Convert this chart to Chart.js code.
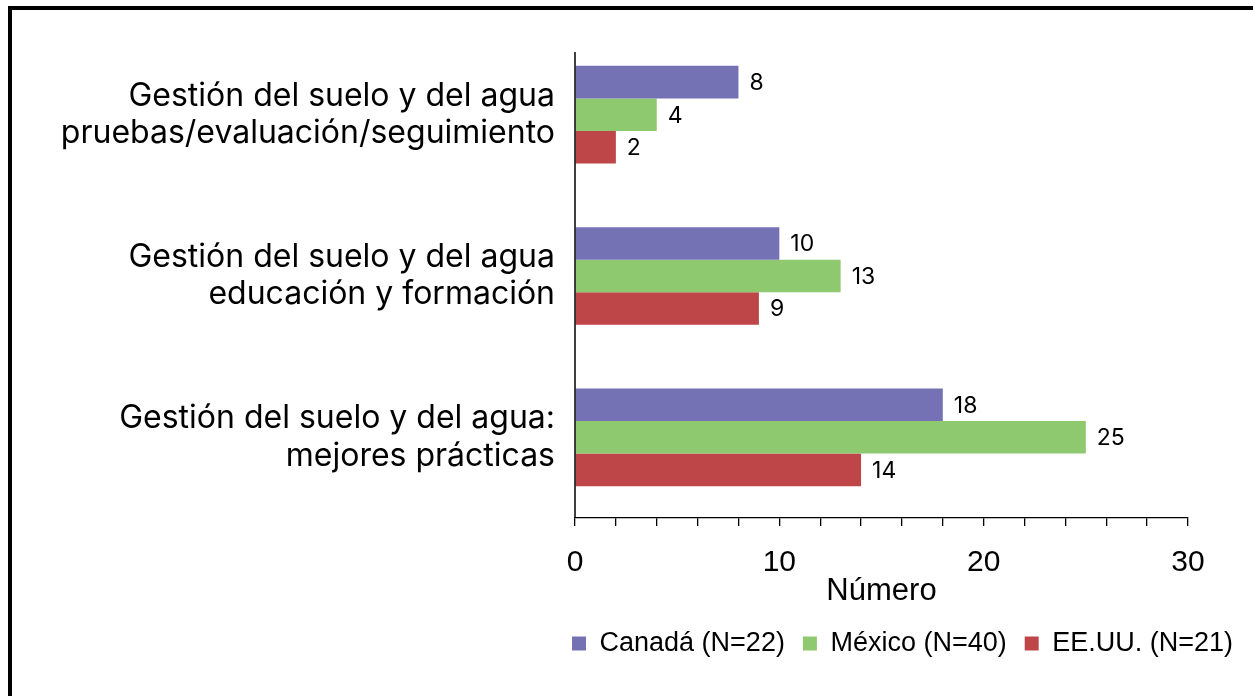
<!DOCTYPE html>
<html>
<head>
<meta charset="utf-8">
<script src="https://cdn.jsdelivr.net/npm/chart.js@4"></script>
<style>
  html, body { margin: 0; padding: 0; background: #fff; }
  #wrap { position: relative; width: 1253px; height: 696px; overflow: hidden; }
  #frame {
    position: absolute; left: 8px; top: 6px; width: 1300px; height: 800px;
    border-top: 4px solid #000; border-left: 4px solid #000; pointer-events: none;
  }
</style>
</head>
<body>
<div id="wrap">
  <canvas id="chart" width="1253" height="696"></canvas>
  <div id="frame"></div>
</div>
<script>
const categories = [
    ["Gestión del suelo y del agua", "pruebas/evaluación/seguimiento"],
    ["Gestión del suelo y del agua", "educación y formación"],
    ["Gestión del suelo y del agua:", "mejores prácticas"],
];
const canada = [8, 10, 18];
const mexico = [4, 13, 25];
const eeuu = [2, 9, 14];
const seriesNames = ["Canadá (N=22)", "México (N=40)", "EE.UU. (N=21)"];
const xTicks = [0, 10, 20, 30];

const sans = "'Liberation Sans', Arial, sans-serif";
const inter = "Inter, 'Noto Sans', sans-serif";

// value labels at the end of each bar
const barValues = {
    id: "barValues",
    afterDatasetsDraw(chart) {
        const ctx = chart.ctx;
        ctx.save();
        ctx.font = "23px " + inter;
        ctx.fillStyle = "#000";
        ctx.textAlign = "left";
        ctx.textBaseline = "middle";
        chart.data.datasets.forEach((ds, i) => {
            chart.getDatasetMeta(i).data.forEach((bar, j) => {
                ctx.fillText(ds.data[j], bar.x + 11, bar.y + 1);
            });
        });
        ctx.restore();
    },
};

// vertical axis line, starting a little below the top of the plot like the original
const yAxisLine = {
    id: "yAxisLine",
    afterDraw(chart) {
        const { ctx, chartArea } = chart;
        const x = chart.scales.x.getPixelForValue(0);
        ctx.save();
        ctx.strokeStyle = "#000";
        ctx.lineWidth = 1.5;
        ctx.beginPath();
        ctx.moveTo(x, chartArea.top + 18);
        ctx.lineTo(x, chartArea.bottom);
        ctx.stroke();
        ctx.restore();
    },
};

new Chart(document.getElementById("chart"), {
    type: "bar",
    data: {
        labels: categories,
        datasets: [
            { label: seriesNames[0], data: canada, backgroundColor: "#7472b4" },
            { label: seriesNames[1], data: mexico, backgroundColor: "#8ec96f" },
            { label: seriesNames[2], data: eeuu, backgroundColor: "#be4649" },
        ],
    },
    options: {
        indexAxis: "y",
        responsive: false,
        animation: false,
        categoryPercentage: 0.605,
        barPercentage: 1.0,
        layout: { padding: { top: 34, right: 2, bottom: 29, left: 0 } },
        scales: {
            x: {
                min: 0,
                max: 30,
                ticks: {
                    stepSize: 2,
                    autoSkip: false,
                    maxRotation: 0,
                    padding: 22,
                    color: "#000",
                    font: { family: sans, size: 30, lineHeight: 1.0 },
                    callback: (v) => (xTicks.includes(v) ? v : ""),
                },
                grid: { drawOnChartArea: false, drawTicks: true, tickLength: 8, color: "#000", lineWidth: 1.3 },
                border: { color: "#000", width: 1.3 },
                title: {
                    display: true,
                    text: "Número",
                    color: "#000",
                    font: { family: sans, size: 31, lineHeight: 1.0 },
                    padding: { top: -24, bottom: 5 },
                },
            },
            y: {
                grid: { display: false },
                border: { display: false },
                ticks: {
                    padding: 12,
                    color: "#000",
                    font: { family: inter, size: 32, lineHeight: 1.16 },
                },
                afterFit(scale) {
                    scale.width = 575;
                    scale.paddingTop = 0;
                    scale.paddingBottom = 0;
                },
            },
            yr: {
                type: "linear",
                position: "right",
                display: true,
                grid: { display: false },
                border: { display: false },
                ticks: { display: false },
                afterFit(scale) {
                    scale.width = 63;
                },
            },
        },
        plugins: {
            legend: {
                position: "bottom",
                align: "end",
                labels: {
                    color: "#000",
                    boxWidth: 14,
                    boxHeight: 14,
                    padding: 18,
                    font: { family: sans, size: 27 },
                },
            },
            tooltip: { enabled: false },
        },
    },
    plugins: [barValues, yAxisLine],
});
</script>
</body>
</html>
